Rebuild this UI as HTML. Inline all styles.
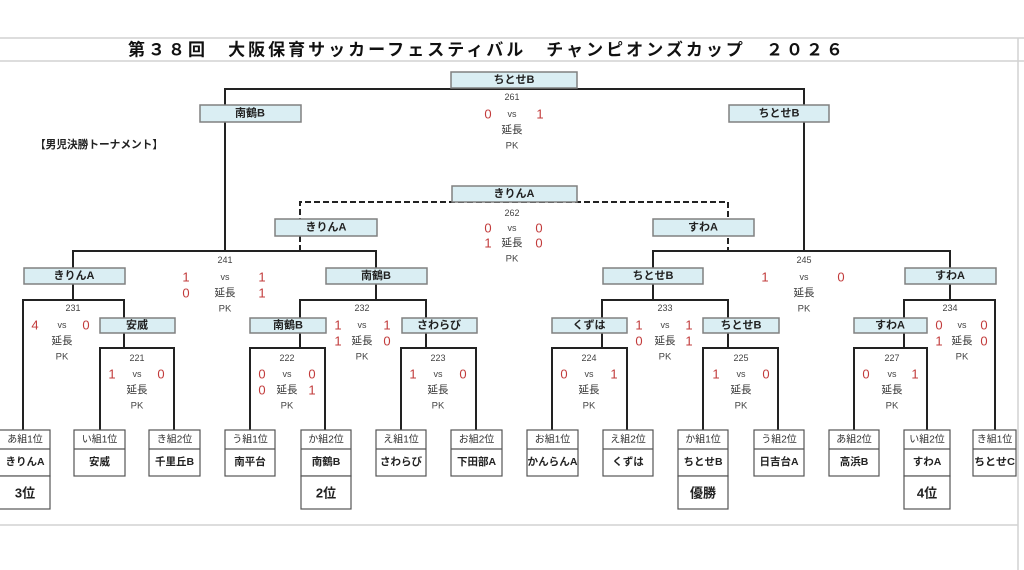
<!DOCTYPE html>
<html><head><meta charset="utf-8"><style>
html,body{margin:0;padding:0;background:#fff;width:1024px;height:570px;overflow:hidden}
svg{display:block}
text{font-family:"Liberation Sans","Noto Sans CJK JP",sans-serif;dominant-baseline:central;text-anchor:middle}
.t{font-size:11px;font-weight:bold;fill:#222}
.n{font-size:9px;fill:#444}
.v{font-size:9px;fill:#444}
.e{font-size:10.5px;fill:#333}
.p{font-size:9.5px;fill:#444}
.s{font-size:13px;fill:#c23b3b}
.l1{font-size:10px;fill:#333}
.l2{font-size:10.5px;font-weight:bold;fill:#222}
.r{font-size:13px;font-weight:bold;fill:#222}
.bl{fill:#daeef3;stroke:#808080;stroke-width:1.5}
.lf{fill:#fff;stroke:#555;stroke-width:1.2}
.ln{stroke:#222;stroke-width:2;fill:none}
.fr{stroke:#d2d2d2;stroke-width:1.5}
</style></head><body>
<svg width="1024" height="570" viewBox="0 0 1024 570" xmlns="http://www.w3.org/2000/svg">
<!-- frame -->
<line class="fr" x1="0" y1="38" x2="1024" y2="38"/>
<line class="fr" x1="0" y1="61" x2="1024" y2="61"/>
<line class="fr" x1="0" y1="525" x2="1018" y2="525"/>
<line class="fr" x1="1018" y1="38" x2="1018" y2="570"/>
<text x="128" y="50" style="font-size:17px;font-weight:bold;fill:#111;text-anchor:start" textLength="715" lengthAdjust="spacing">第３８回　大阪保育サッカーフェスティバル　チャンピオンズカップ　２０２６</text>
<text x="35" y="145" style="font-size:11px;font-weight:bold;fill:#222;text-anchor:start" textLength="128" lengthAdjust="spacingAndGlyphs">【男児決勝トーナメント】</text>

<!-- bracket lines -->
<path class="ln" d="M225 251V89H804V251"/>
<path class="ln" d="M73 300V251H376V300"/>
<path class="ln" d="M653 300V251H950V300"/>
<path class="ln" d="M300 251V202H728V251" stroke-dasharray="6 3"/>
<path class="ln" d="M23 430V300H124V348"/>
<path class="ln" d="M100 430V348H174V430"/>
<path class="ln" d="M300 348V300H426V348"/>
<path class="ln" d="M250 430V348H325V430"/>
<path class="ln" d="M401 430V348H476V430"/>
<path class="ln" d="M602 348V300H728V348"/>
<path class="ln" d="M552 430V348H627V430"/>
<path class="ln" d="M703 430V348H778V430"/>
<path class="ln" d="M904 348V300H995V430"/>
<path class="ln" d="M854 430V348H927V430"/>

<!-- blue boxes -->
<rect class="bl" x="451" y="72" width="126" height="16"/><text class="t" x="514" y="80">ちとせB</text>
<rect class="bl" x="200" y="105" width="101" height="17"/><text class="t" x="250" y="113.5">南鶴B</text>
<rect class="bl" x="729" y="105" width="100" height="17"/><text class="t" x="779" y="113.5">ちとせB</text>
<rect class="bl" x="452" y="186" width="125" height="16"/><text class="t" x="514" y="194">きりんA</text>
<rect class="bl" x="275" y="219" width="102" height="17"/><text class="t" x="326" y="227.5">きりんA</text>
<rect class="bl" x="653" y="219" width="101" height="17"/><text class="t" x="703" y="227.5">すわA</text>
<rect class="bl" x="24" y="268" width="101" height="16"/><text class="t" x="74" y="276">きりんA</text>
<rect class="bl" x="326" y="268" width="101" height="16"/><text class="t" x="376" y="276">南鶴B</text>
<rect class="bl" x="603" y="268" width="100" height="16"/><text class="t" x="653" y="276">ちとせB</text>
<rect class="bl" x="905" y="268" width="91" height="16"/><text class="t" x="950" y="276">すわA</text>
<rect class="bl" x="100" y="318" width="75" height="15"/><text class="t" x="137" y="325.5">安威</text>
<rect class="bl" x="250" y="318" width="76" height="15"/><text class="t" x="288" y="325.5">南鶴B</text>
<rect class="bl" x="402" y="318" width="75" height="15"/><text class="t" x="439" y="325.5">さわらび</text>
<rect class="bl" x="552" y="318" width="75" height="15"/><text class="t" x="589" y="325.5">くずは</text>
<rect class="bl" x="703" y="318" width="76" height="15"/><text class="t" x="741" y="325.5">ちとせB</text>
<rect class="bl" x="854" y="318" width="73" height="15"/><text class="t" x="890" y="325.5">すわA</text>

<!-- 261 -->
<text class="n" x="512" y="97">261</text>
<text class="s" x="488" y="114">0</text><text class="v" x="512" y="114">vs</text><text class="s" x="540" y="114">1</text>
<text class="e" x="512" y="130">延長</text><text class="p" x="512" y="146">PK</text>
<!-- 262 -->
<text class="n" x="512" y="213">262</text>
<text class="s" x="488" y="228">0</text><text class="v" x="512" y="228">vs</text><text class="s" x="539" y="228">0</text>
<text class="s" x="488" y="243">1</text><text class="e" x="512" y="243">延長</text><text class="s" x="539" y="243">0</text>
<text class="p" x="512" y="259">PK</text>
<!-- 241 -->
<text class="n" x="225" y="260">241</text>
<text class="s" x="186" y="277">1</text><text class="v" x="225" y="277">vs</text><text class="s" x="262" y="277">1</text>
<text class="s" x="186" y="293">0</text><text class="e" x="225" y="293">延長</text><text class="s" x="262" y="293">1</text>
<text class="p" x="225" y="309">PK</text>
<!-- 245 -->
<text class="n" x="804" y="260">245</text>
<text class="s" x="765" y="277">1</text><text class="v" x="804" y="277">vs</text><text class="s" x="841" y="277">0</text>
<text class="e" x="804" y="293">延長</text><text class="p" x="804" y="309">PK</text>
<!-- 231 -->
<text class="n" x="73" y="308">231</text>
<text class="s" x="35" y="325">4</text><text class="v" x="62" y="325">vs</text><text class="s" x="86" y="325">0</text>
<text class="e" x="62" y="341">延長</text><text class="p" x="62" y="357">PK</text>
<!-- 232 -->
<text class="n" x="362" y="308">232</text>
<text class="s" x="338" y="325">1</text><text class="v" x="362" y="325">vs</text><text class="s" x="387" y="325">1</text>
<text class="s" x="338" y="341">1</text><text class="e" x="362" y="341">延長</text><text class="s" x="387" y="341">0</text>
<text class="p" x="362" y="357">PK</text>
<!-- 233 -->
<text class="n" x="665" y="308">233</text>
<text class="s" x="639" y="325">1</text><text class="v" x="665" y="325">vs</text><text class="s" x="689" y="325">1</text>
<text class="s" x="639" y="341">0</text><text class="e" x="665" y="341">延長</text><text class="s" x="689" y="341">1</text>
<text class="p" x="665" y="357">PK</text>
<!-- 234 -->
<text class="n" x="950" y="308">234</text>
<text class="s" x="939" y="325">0</text><text class="v" x="962" y="325">vs</text><text class="s" x="984" y="325">0</text>
<text class="s" x="939" y="341">1</text><text class="e" x="962" y="341">延長</text><text class="s" x="984" y="341">0</text>
<text class="p" x="962" y="357">PK</text>
<!-- 221 -->
<text class="n" x="137" y="358">221</text>
<text class="s" x="112" y="374">1</text><text class="v" x="137" y="374">vs</text><text class="s" x="161" y="374">0</text>
<text class="e" x="137" y="390">延長</text><text class="p" x="137" y="406">PK</text>
<!-- 222 -->
<text class="n" x="287" y="358">222</text>
<text class="s" x="262" y="374">0</text><text class="v" x="287" y="374">vs</text><text class="s" x="312" y="374">0</text>
<text class="s" x="262" y="390">0</text><text class="e" x="287" y="390">延長</text><text class="s" x="312" y="390">1</text>
<text class="p" x="287" y="406">PK</text>
<!-- 223 -->
<text class="n" x="438" y="358">223</text>
<text class="s" x="413" y="374">1</text><text class="v" x="438" y="374">vs</text><text class="s" x="463" y="374">0</text>
<text class="e" x="438" y="390">延長</text><text class="p" x="438" y="406">PK</text>
<!-- 224 -->
<text class="n" x="589" y="358">224</text>
<text class="s" x="564" y="374">0</text><text class="v" x="589" y="374">vs</text><text class="s" x="614" y="374">1</text>
<text class="e" x="589" y="390">延長</text><text class="p" x="589" y="406">PK</text>
<!-- 225 -->
<text class="n" x="741" y="358">225</text>
<text class="s" x="716" y="374">1</text><text class="v" x="741" y="374">vs</text><text class="s" x="766" y="374">0</text>
<text class="e" x="741" y="390">延長</text><text class="p" x="741" y="406">PK</text>
<!-- 227 -->
<text class="n" x="892" y="358">227</text>
<text class="s" x="866" y="374">0</text><text class="v" x="892" y="374">vs</text><text class="s" x="915" y="374">1</text>
<text class="e" x="892" y="390">延長</text><text class="p" x="892" y="406">PK</text>

<!-- leaf boxes -->
<g>
<rect class="lf" x="-1" y="430" width="51" height="46"/><line class="lf" x1="-1" y1="449" x2="50" y2="449"/>
<text class="l1" x="25" y="440">あ組1位</text><text class="l2" x="25" y="462">きりんA</text>
<rect class="lf" x="-1" y="476" width="51" height="33"/><text class="r" x="25" y="493">3位</text>

<rect class="lf" x="74" y="430" width="51" height="46"/><line class="lf" x1="74" y1="449" x2="125" y2="449"/>
<text class="l1" x="99.5" y="440">い組1位</text><text class="l2" x="99.5" y="462">安威</text>

<rect class="lf" x="149" y="430" width="51" height="46"/><line class="lf" x1="149" y1="449" x2="200" y2="449"/>
<text class="l1" x="174.5" y="440">き組2位</text><text class="l2" x="174.5" y="462">千里丘B</text>

<rect class="lf" x="225" y="430" width="50" height="46"/><line class="lf" x1="225" y1="449" x2="275" y2="449"/>
<text class="l1" x="250" y="440">う組1位</text><text class="l2" x="250" y="462">南平台</text>

<rect class="lf" x="301" y="430" width="50" height="46"/><line class="lf" x1="301" y1="449" x2="351" y2="449"/>
<text class="l1" x="326" y="440">か組2位</text><text class="l2" x="326" y="462">南鶴B</text>
<rect class="lf" x="301" y="476" width="50" height="33"/><text class="r" x="326" y="493">2位</text>

<rect class="lf" x="376" y="430" width="50" height="46"/><line class="lf" x1="376" y1="449" x2="426" y2="449"/>
<text class="l1" x="401" y="440">え組1位</text><text class="l2" x="401" y="462">さわらび</text>

<rect class="lf" x="451" y="430" width="51" height="46"/><line class="lf" x1="451" y1="449" x2="502" y2="449"/>
<text class="l1" x="476.5" y="440">お組2位</text><text class="l2" x="476.5" y="462">下田部A</text>

<rect class="lf" x="527" y="430" width="51" height="46"/><line class="lf" x1="527" y1="449" x2="578" y2="449"/>
<text class="l1" x="552.5" y="440">お組1位</text><text class="l2" x="552.5" y="462" textLength="50" lengthAdjust="spacingAndGlyphs">かんらんA</text>

<rect class="lf" x="603" y="430" width="50" height="46"/><line class="lf" x1="603" y1="449" x2="653" y2="449"/>
<text class="l1" x="628" y="440">え組2位</text><text class="l2" x="628" y="462">くずは</text>

<rect class="lf" x="678" y="430" width="50" height="46"/><line class="lf" x1="678" y1="449" x2="728" y2="449"/>
<text class="l1" x="703" y="440">か組1位</text><text class="l2" x="703" y="462">ちとせB</text>
<rect class="lf" x="678" y="476" width="50" height="33"/><text class="r" x="703" y="493">優勝</text>

<rect class="lf" x="754" y="430" width="50" height="46"/><line class="lf" x1="754" y1="449" x2="804" y2="449"/>
<text class="l1" x="779" y="440">う組2位</text><text class="l2" x="779" y="462">日吉台A</text>

<rect class="lf" x="829" y="430" width="50" height="46"/><line class="lf" x1="829" y1="449" x2="879" y2="449"/>
<text class="l1" x="854" y="440">あ組2位</text><text class="l2" x="854" y="462">高浜B</text>

<rect class="lf" x="904" y="430" width="46" height="46"/><line class="lf" x1="904" y1="449" x2="950" y2="449"/>
<text class="l1" x="927" y="440">い組2位</text><text class="l2" x="927" y="462">すわA</text>
<rect class="lf" x="904" y="476" width="46" height="33"/><text class="r" x="927" y="493">4位</text>

<rect class="lf" x="973" y="430" width="43" height="46"/><line class="lf" x1="973" y1="449" x2="1016" y2="449"/>
<text class="l1" x="994.5" y="440">き組1位</text><text class="l2" x="994.5" y="462" textLength="41" lengthAdjust="spacingAndGlyphs">ちとせC</text>
</g>
</svg>
</body></html>
